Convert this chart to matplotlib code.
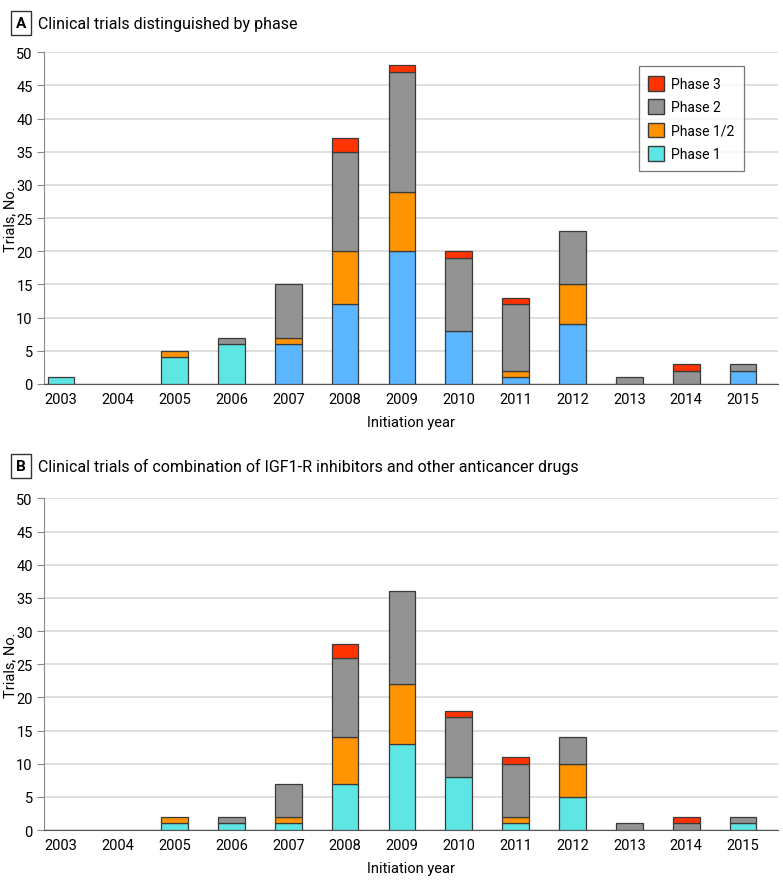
import numpy as np
import matplotlib
matplotlib.use("Agg")
import matplotlib.pyplot as plt
from matplotlib.patches import Patch

plt.rcParams['font.family'] = ['Liberation Sans Narrow', 'Roboto', 'DejaVu Sans']

years = [2003, 2004, 2005, 2006, 2007, 2008, 2009, 2010, 2011, 2012, 2013, 2014, 2015]
phases = ["Phase 1", "Phase 1/2", "Phase 2", "Phase 3"]

# panel A: all trials
a_p1 = [1, 0, 4, 6, 6, 12, 20, 8, 1, 9, 0, 0, 2]
a_p12 = [0, 0, 1, 0, 1, 8, 9, 0, 1, 6, 0, 0, 0]
a_p2 = [0, 0, 0, 1, 8, 15, 18, 11, 10, 8, 1, 2, 1]
a_p3 = [0, 0, 0, 0, 0, 2, 1, 1, 1, 0, 0, 1, 0]

# panel B: combination trials
b_p1 = [0, 0, 1, 1, 1, 7, 13, 8, 1, 5, 0, 0, 1]
b_p12 = [0, 0, 1, 0, 1, 7, 9, 0, 1, 5, 0, 0, 0]
b_p2 = [0, 0, 0, 1, 5, 12, 14, 9, 8, 4, 1, 1, 1]
b_p3 = [0, 0, 0, 0, 0, 2, 0, 1, 1, 0, 0, 1, 0]

c_p1 = "#5ee6e4"
c_p1b = "#5cb5ff"
c_p12 = "#ff9400"
c_p2 = "#939393"
c_p3 = "#ff3300"
edge = "#3a3a3a"

fig = plt.figure(figsize=(7.83, 8.87), dpi=100)
axA = fig.add_axes([0.056, 0.566, 0.938, 0.374])
axB = fig.add_axes([0.056, 0.063, 0.938, 0.374])


def draw(ax, p1, p12, p2, p3, p1_colors):
    x = np.array(years)
    w = 0.47
    bottom = np.zeros(len(x))
    for vals, col in [(p1, p1_colors), (p12, c_p12), (p2, c_p2), (p3, c_p3)]:
        v = np.array(vals, dtype=float)
        m = v > 0
        cols = col if isinstance(col, str) else [c for c, k in zip(col, m) if k]
        ax.bar(x[m], v[m], w, bottom=bottom[m], color=cols, edgecolor=edge,
               linewidth=0.9, zorder=3)
        bottom += v
    ax.set_ylim(0, 50)
    ax.set_xlim(2003 - 0.3, 2015 + 0.62)
    ax.set_yticks(range(0, 51, 5))
    ax.set_xticks(years)
    ax.grid(axis="y", color="#d9d9d9", linewidth=1.2, zorder=0)
    for s in ["top", "right"]:
        ax.spines[s].set_visible(False)
    ax.spines["left"].set_color("#888888")
    ax.spines["bottom"].set_color("#555555")
    ax.tick_params(axis="y", length=5, color="#888888", labelsize=10.5, pad=3)
    ax.tick_params(axis="x", length=0, labelsize=10.5, pad=6)
    ax.set_xlabel("Initiation year", fontsize=10.5, labelpad=6)
    pos = ax.get_position()
    fig.text(10 / 783, (pos.y0 + pos.y1) / 2, "Trials, No.", rotation=90,
             fontsize=10.5, ha="center", va="center")


p1_cols_a = [c_p1 if y < 2007 else c_p1b for y in years]
draw(axA, a_p1, a_p12, a_p2, a_p3, p1_cols_a)
draw(axB, b_p1, b_p12, b_p2, b_p3, c_p1)

handles = [Patch(facecolor=c_p3, edgecolor=edge, label="Phase 3"),
           Patch(facecolor=c_p2, edgecolor=edge, label="Phase 2"),
           Patch(facecolor=c_p12, edgecolor=edge, label="Phase 1/2"),
           Patch(facecolor=c_p1, edgecolor=edge, label="Phase 1")]
leg = axA.legend(handles=handles, loc="upper left", bbox_to_anchor=(0.81, 0.958),
                 borderaxespad=0, fontsize=10, frameon=True, fancybox=False,
                 edgecolor="#555555", handlelength=1.1, handleheight=1.25,
                 handletextpad=0.5, borderpad=0.7, labelspacing=0.6)
leg.get_frame().set_linewidth(0.9)

for letter, title, yy in [("A", "Clinical trials distinguished by phase", 1 - 24 / 887),
                          ("B", "Clinical trials of combination of IGF1-R inhibitors and other anticancer drugs", 1 - 467 / 887)]:
    fig.text(21 / 783, yy, letter, fontsize=11, fontweight="bold", ha="center", va="center",
             bbox=dict(boxstyle="square,pad=0.3", facecolor="white", edgecolor="#333333", linewidth=1))
    fig.text(38 / 783, yy, title, fontsize=11.5, ha="left", va="center")

fig.savefig("out.png", dpi=100)
